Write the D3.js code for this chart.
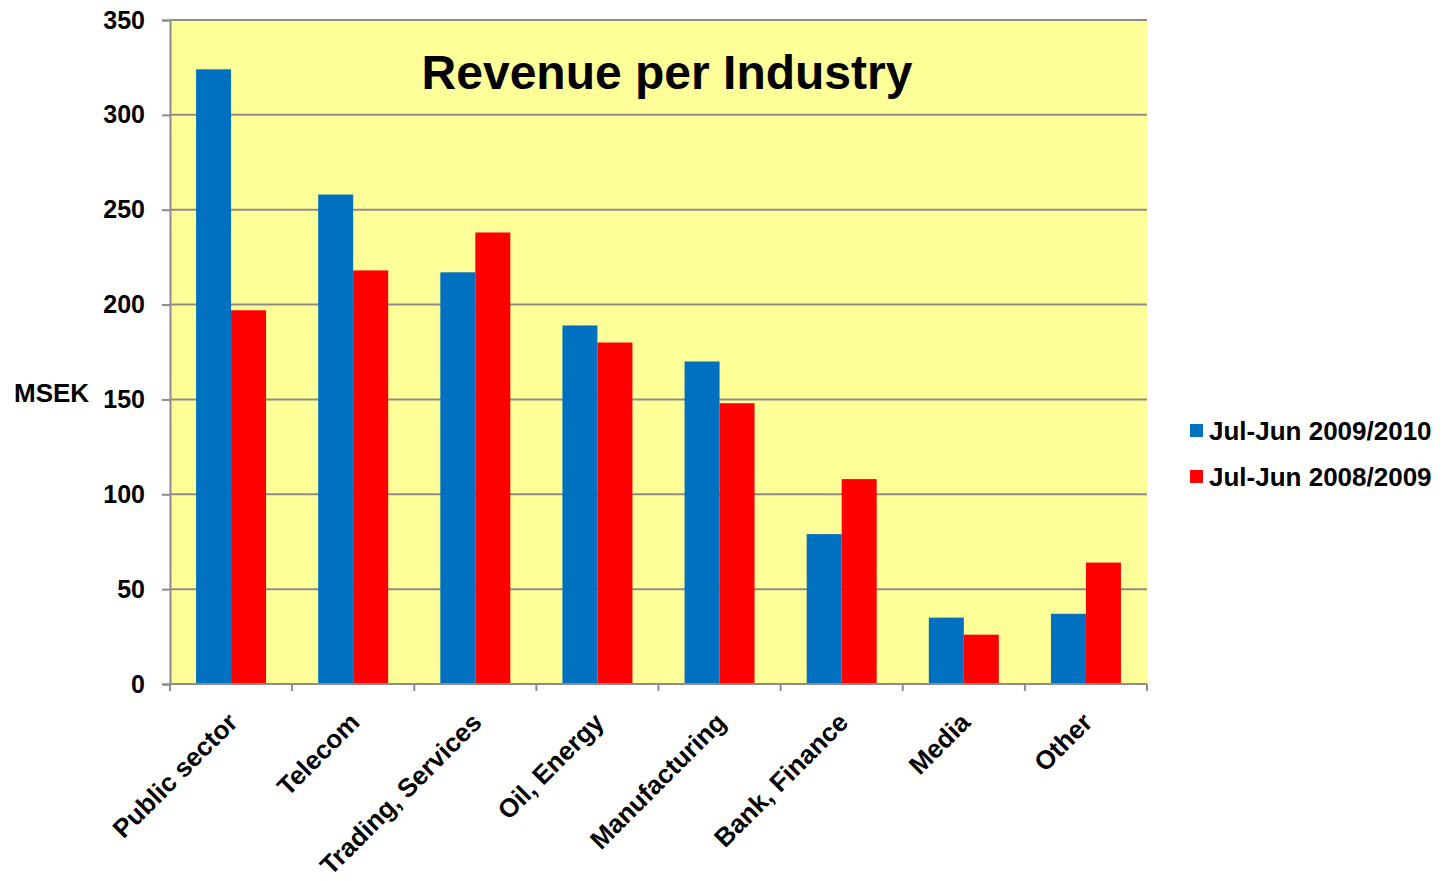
<!DOCTYPE html>
<html>

<head>
    <title>Revenue per Industry</title>
    <script src="https://d3js.org/d3.v7.min.js"></script>
    <style>
        body {
            margin: 0;
            background: white;
        }

        text {
            font-family: "Liberation Sans", Arial, sans-serif;
            font-weight: 700;
            fill: black;
        }
    </style>
</head>

<body>
    <div id="chart"></div>

    <script>
        const width = 1447, height = 881
        const categories = ["Public sector", "Telecom", "Trading, Services", "Oil, Energy", "Manufacturing", "Bank, Finance", "Media", "Other"]
        const seriesNames = ["Jul-Jun 2009/2010", "Jul-Jun 2008/2009"]
        const values2010 = [324, 258, 217, 189, 170, 79, 35, 37]
        const values2009 = [197, 218, 238, 180, 148, 108, 26, 64]
        const yTicks = [0, 50, 100, 150, 200, 250, 300, 350]
        const colors = ["#0070c0", "#ff0000"]

        const margin = { left: 170, right: 300, top: 20, bottom: 197 }

        const svg = d3.select("#chart")
            .append("svg")
            .attr("width", width)
            .attr("height", height)

        const x = d3.scaleBand()
            .domain(categories)
            .range([margin.left, width - margin.right])
            .padding(0)

        const x1 = d3.scaleBand()
            .domain(seriesNames)
            .range([0, x.bandwidth()])
            .paddingInner(0)
            .paddingOuter(0.745)

        const y = d3.scaleLinear()
            .domain([0, 350])
            .range([height - margin.bottom, margin.top])

        // plot background
        svg.append("rect")
            .attr("x", margin.left)
            .attr("y", margin.top)
            .attr("width", x.range()[1] - margin.left)
            .attr("height", y(0) - margin.top)
            .attr("fill", "#ffff99")

        // gridlines
        svg.append("g")
            .selectAll("line")
            .data(yTicks.filter(d => d > 0))
            .enter()
            .append("line")
            .attr("x1", margin.left)
            .attr("x2", x.range()[1])
            .attr("y1", d => y(d))
            .attr("y2", d => y(d))
            .attr("stroke", "#8c8c8c")
            .attr("stroke-width", 2)

        // bars
        const rows = categories.map((c, i) => ({ cat: c, vals: [values2010[i], values2009[i]] }))
        const groups = svg.append("g")
            .selectAll("g")
            .data(rows)
            .enter()
            .append("g")
            .attr("transform", d => `translate(${x(d.cat)},0)`)

        groups.selectAll("rect")
            .data(d => d.vals.map((v, j) => ({ name: seriesNames[j], value: v, color: colors[j] })))
            .enter()
            .append("rect")
            .attr("x", d => x1(d.name))
            .attr("y", d => y(d.value))
            .attr("width", x1.bandwidth())
            .attr("height", d => y(0) - y(d.value))
            .attr("fill", d => d.color)

        // y axis
        const yAxis = svg.append("g")
            .attr("transform", `translate(${margin.left},0)`)
            .call(d3.axisLeft(y).tickValues(yTicks).tickSize(8).tickPadding(17))
        yAxis.selectAll("line, path").attr("stroke", "#8c8c8c").attr("stroke-width", 2)
        yAxis.selectAll("text")
            .style("font-size", "25px")
            .style("font-family", "'Liberation Sans', Arial, sans-serif")
            .style("font-weight", "700")
            .attr("fill", "black")

        // x axis
        const xAxis = svg.append("g")
            .attr("transform", `translate(0,${y(0)})`)
        xAxis.append("line")
            .attr("x1", margin.left)
            .attr("x2", x.range()[1])
            .attr("y1", 0)
            .attr("y2", 0)
            .attr("stroke", "#8c8c8c")
            .attr("stroke-width", 2)
        xAxis.selectAll(".tick")
            .data(categories.concat(["end"]))
            .enter()
            .append("line")
            .attr("x1", (d, i) => i < categories.length ? x(d) : x.range()[1])
            .attr("x2", (d, i) => i < categories.length ? x(d) : x.range()[1])
            .attr("y1", 0)
            .attr("y2", 7)
            .attr("stroke", "#8c8c8c")
            .attr("stroke-width", 2)
        xAxis.selectAll("text")
            .data(categories)
            .enter()
            .append("text")
            .attr("text-anchor", "end")
            .attr("transform", d => `translate(${x(d) + x.bandwidth() / 2 + 8},${40}) rotate(-45)`)
            .style("font-size", "26px")
            .text(d => d)

        // title
        svg.append("text")
            .attr("x", 667)
            .attr("y", 89)
            .attr("text-anchor", "middle")
            .style("font-size", "48px")
            .text("Revenue per Industry")

        // y label
        svg.append("text")
            .attr("x", 14)
            .attr("y", 402)
            .style("font-size", "26px")
            .text("MSEK")

        // legend
        const legend = svg.append("g")
            .attr("transform", "translate(1190,431)")
        const items = legend.selectAll("g")
            .data(seriesNames)
            .enter()
            .append("g")
            .attr("transform", (d, i) => `translate(0,${i * 46})`)
        items.append("rect")
            .attr("x", 0)
            .attr("y", -7)
            .attr("width", 13)
            .attr("height", 13)
            .attr("fill", (d, i) => colors[i])
        items.append("text")
            .attr("x", 19)
            .attr("y", 9)
            .style("font-size", "26px")
            .text(d => d)
    </script>

</body>

</html>
